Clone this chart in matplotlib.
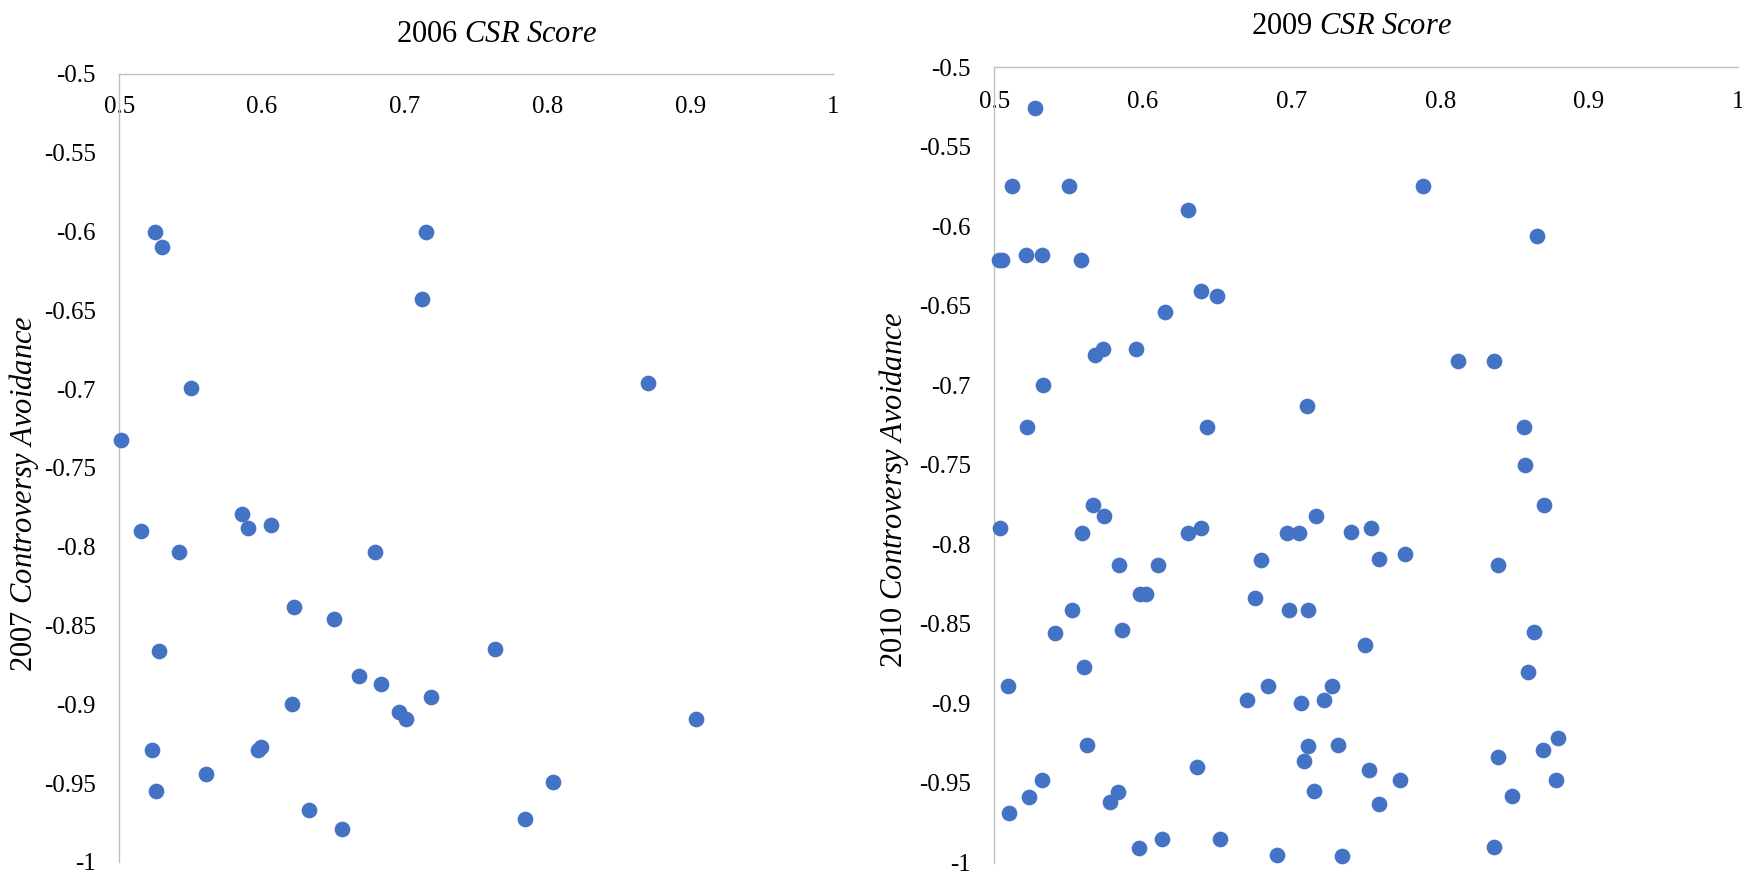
import matplotlib as mpl
import matplotlib.pyplot as plt

# ---- data ----
csr_2006 = [0.525, 0.530, 0.715, 0.712, 0.550, 0.870, 0.501,
            0.515, 0.542, 0.586, 0.590, 0.606, 0.679,
            0.622, 0.650, 0.528, 0.763, 0.668, 0.683, 0.718, 0.621,
            0.696, 0.701, 0.904, 0.523, 0.599, 0.597,
            0.561, 0.526, 0.804, 0.633, 0.656, 0.784]
ca_2007 = [-0.600, -0.610, -0.600, -0.643, -0.699, -0.696, -0.732,
           -0.790, -0.803, -0.779, -0.788, -0.786, -0.803,
           -0.838, -0.846, -0.866, -0.865, -0.882, -0.887, -0.895, -0.900,
           -0.905, -0.909, -0.909, -0.929, -0.927, -0.929,
           -0.944, -0.955, -0.949, -0.967, -0.979, -0.973]

csr_2009 = [0.527, 0.512, 0.550, 0.788, 0.630, 0.865, 0.503, 0.505, 0.521, 0.532,
            0.558, 0.639, 0.650, 0.615, 0.573, 0.568, 0.595, 0.812, 0.836, 0.533,
            0.710, 0.522, 0.643, 0.856, 0.857, 0.566, 0.574, 0.716, 0.870, 0.504,
            0.559, 0.630, 0.639, 0.697, 0.705, 0.740, 0.753, 0.759, 0.776, 0.584,
            0.610, 0.679, 0.839, 0.598, 0.602, 0.675, 0.552, 0.698, 0.711, 0.541,
            0.586, 0.863, 0.749, 0.560, 0.859, 0.509, 0.684, 0.727, 0.670, 0.706,
            0.722, 0.562, 0.711, 0.731, 0.879, 0.869, 0.839, 0.708, 0.636, 0.752,
            0.532, 0.773, 0.878, 0.523, 0.583, 0.578, 0.715, 0.759, 0.848, 0.510,
            0.613, 0.652, 0.597, 0.690, 0.734, 0.836]
ca_2010 = [-0.526, -0.575, -0.575, -0.575, -0.590, -0.606, -0.621, -0.621, -0.618, -0.618,
           -0.621, -0.641, -0.644, -0.654, -0.677, -0.681, -0.677, -0.685, -0.685, -0.700,
           -0.713, -0.726, -0.726, -0.726, -0.750, -0.775, -0.782, -0.782, -0.775, -0.790,
           -0.793, -0.793, -0.790, -0.793, -0.793, -0.792, -0.790, -0.809, -0.806, -0.813,
           -0.813, -0.810, -0.813, -0.831, -0.831, -0.834, -0.841, -0.841, -0.841, -0.856,
           -0.854, -0.855, -0.863, -0.877, -0.880, -0.889, -0.889, -0.889, -0.898, -0.900,
           -0.898, -0.926, -0.927, -0.926, -0.922, -0.929, -0.934, -0.936, -0.940, -0.942,
           -0.948, -0.948, -0.948, -0.959, -0.956, -0.962, -0.955, -0.963, -0.958, -0.969,
           -0.985, -0.985, -0.991, -0.995, -0.996, -0.990]

x_ticks = [0.5, 0.6, 0.7, 0.8, 0.9, 1.0]
x_labels = ["0.5", "0.6", "0.7", "0.8", "0.9", "1"]
y_ticks = [-0.5, -0.55, -0.6, -0.65, -0.7, -0.75, -0.8, -0.85, -0.9, -0.95, -1.0]
y_labels = ["-0.5", "-0.55", "-0.6", "-0.65", "-0.7", "-0.75",
            "-0.8", "-0.85", "-0.9", "-0.95", "-1"]

mpl.rcParams.update({
    "font.family": ["Liberation Serif", "DejaVu Serif"],
    "mathtext.fontset": "custom",
    "mathtext.rm": "Liberation Serif",
    "mathtext.it": "Liberation Serif:italic",
    "text.color": "black",
})

W, H = 1742, 875
fig = plt.figure(figsize=(W / 100, H / 100), dpi=100)


def px_axes(l, r, t, b):
    return fig.add_axes([l / W, 1 - b / H, (r - l) / W, (b - t) / H])


def style(ax, xs, ys, xpad):
    ax.scatter(xs, ys, s=128, color="#4472C4", linewidths=0, zorder=3, clip_on=False)
    ax.set_xlim(0.5, 1.0)
    ax.set_ylim(-1.0, -0.5)
    ax.set_xticks(x_ticks)
    ax.set_xticklabels(x_labels)
    ax.set_yticks(y_ticks)
    ax.set_yticklabels(y_labels)
    ax.xaxis.set_ticks_position("top")
    ax.tick_params(axis="x", length=0, pad=xpad, labelsize=18,
                   labeltop=True, labelbottom=False)
    ax.tick_params(axis="y", length=0, pad=17, labelsize=18)
    for lab in ax.get_xticklabels():
        lab.set_va("top")
    for sp in ["bottom", "right"]:
        ax.spines[sp].set_visible(False)
    for sp in ["top", "left"]:
        ax.spines[sp].set_color("#BFBFBF")
        ax.spines[sp].set_linewidth(1.0)
    ax.patch.set_alpha(0)


axL = px_axes(119.3, 833.3, 74, 862)
style(axL, csr_2006, ca_2007, -15.8)
axR = px_axes(994.4, 1737.7, 67, 862.5)
style(axR, csr_2009, ca_2010, -17.3)

fig.text(496 / W, 1 - 41.7 / H, r"2006 $\mathit{CSR\ Score}$",
         ha="center", va="baseline", fontsize=22)
fig.text(1351 / W, 1 - 34 / H, r"2009 $\mathit{CSR\ Score}$",
         ha="center", va="baseline", fontsize=22)
fig.text(24 / W, 1 - 494 / H, r"2007 $\mathit{Controversy\ Avoidance}$",
         rotation=90, ha="center", va="center", fontsize=22)
fig.text(894 / W, 1 - 490 / H, r"2010 $\mathit{Controversy\ Avoidance}$",
         rotation=90, ha="center", va="center", fontsize=22)

fig.savefig("out.png", dpi=100)
